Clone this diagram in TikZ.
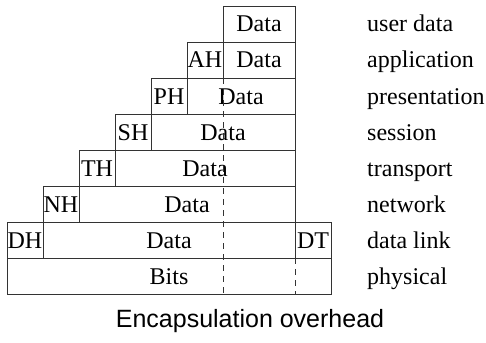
\documentclass[tikz,border=0pt]{standalone}
\usepackage{fontspec}
\setmainfont{Liberation Serif}
\newfontfamily\capfont{Liberation Sans}
\begin{document}
\begin{tikzpicture}[x=1pt,y=-1pt,
  cell/.style={draw=black!80, line width=0.9pt, inner sep=0pt, minimum height=36pt,
    text height=16pt, text depth=0pt, font=\fontsize{24}{28}\selectfont},
  lbl/.style={anchor=base west, inner sep=0pt, font=\fontsize{24}{28}\selectfont},
  cut/.style={draw=black!80, line width=0.9pt, dash pattern=on 6pt off 5pt}]
\useasboundingbox (0,0) rectangle (486,342);
% row 0 user data
\node[cell, minimum width=72pt] (d0) at (259,24) {Data};
% row 1 application
\node[cell, minimum width=36pt] (ah) at (205,60) {AH};
\node[cell, minimum width=72pt] (d1) at (259,60) {Data};
% row 2 presentation
\node[cell, minimum width=36pt] (ph) at (169,96) {PH};
\node[cell, minimum width=108pt] (d2) at (241,96) {Data};
% row 3 session
\node[cell, minimum width=36pt] (sh) at (133,132) {SH};
\node[cell, minimum width=144pt] (d3) at (223,132) {Data};
% row 4 transport
\node[cell, minimum width=36pt] (th) at (97,168) {TH};
\node[cell, minimum width=180pt] (d4) at (205,168) {Data};
% row 5 network
\node[cell, minimum width=36pt] (nh) at (61,204) {NH};
\node[cell, minimum width=216pt] (d5) at (187,204) {Data};
% row 6 data link
\node[cell, minimum width=36pt] (dh) at (25,240) {DH};
\node[cell, minimum width=252pt] (d6) at (169,240) {Data};
\node[cell, minimum width=36pt] (dt) at (313,240) {DT};
% row 7 physical
\node[cell, minimum width=324pt] (bits) at (169,276) {Bits};
% dashed cut lines
\coordinate (c1a) at (223,78);
\coordinate (c1b) at (223,294);
\coordinate (c2a) at (295,258);
\coordinate (c2b) at (295,294);
\draw[cut] (c1a) -- (c1b);
\draw[cut] (c2a) -- (c2b);
% layer labels
\node[lbl] (l0) at (367,32) {user data};
\node[lbl] (l1) at (367,68) {application};
\node[lbl] (l2) at (367,104) {presentation};
\node[lbl] (l3) at (367,140) {session};
\node[lbl] (l4) at (367,176) {transport};
\node[lbl] (l5) at (367,212) {network};
\node[lbl] (l6) at (367,248) {data link};
\node[lbl] (l7) at (367,284) {physical};
% caption
\node[anchor=base, inner sep=0pt, font=\capfont\fontsize{25}{30}\selectfont] (cap) at (250,327) {Encapsulation overhead};
\end{tikzpicture}
\end{document}
